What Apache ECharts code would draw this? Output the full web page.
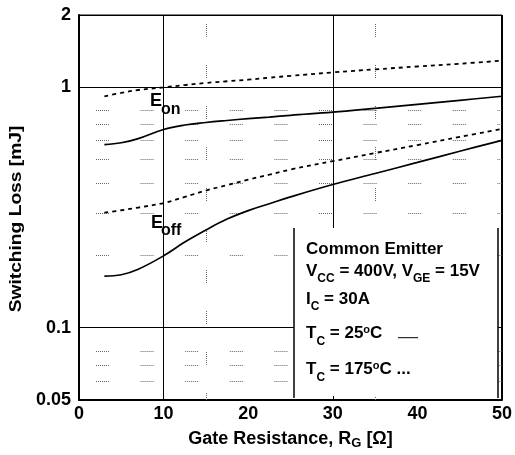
<!DOCTYPE html>
<html>
<head>
<meta charset="utf-8">
<script src="https://cdn.jsdelivr.net/npm/echarts@6/dist/echarts.min.js"></script>
<style>
html,body{margin:0;padding:0;background:#fff;}
#chart{width:515px;height:455px;}
</style>
</head>
<body>
<div id="chart"></div>
<script>
// Gate resistance values (Ohm)
var rg = [3, 5, 7, 10, 12.5, 15, 17.5, 20, 22.5, 25, 30, 35, 40, 45, 50];
// Switching losses (mJ)
var eon25   = [0.578, 0.588, 0.612, 0.668, 0.697, 0.714, 0.728, 0.741, 0.752, 0.765, 0.788, 0.818, 0.850, 0.883, 0.918];
var eon175  = [0.918, 0.948, 0.975, 1.000, 1.022, 1.043, 1.060, 1.076, 1.097, 1.116, 1.154, 1.188, 1.221, 1.254, 1.291];
var eoff25  = [0.164, 0.166, 0.175, 0.199, 0.227, 0.255, 0.283, 0.307, 0.328, 0.350, 0.394, 0.438, 0.487, 0.542, 0.602];
var eoff175 = [0.301, 0.308, 0.316, 0.330, 0.350, 0.372, 0.392, 0.413, 0.433, 0.455, 0.493, 0.533, 0.575, 0.622, 0.672];
// axis settings
var xTicks = [0, 10, 20, 30, 40, 50];
var yMin = 0.05, yMax = 2;
var majorX = [10, 30];
var minorX = [15, 35];
var minorY = [0.06, 0.07, 0.08, 0.2, 0.3, 0.4, 0.5, 0.6, 0.7, 0.8];

var FONT = 'Liberation Sans, Arial, Helvetica, sans-serif';

function pairs(xs, ys) { return xs.map(function (x, i) { return [x, ys[i]]; }); }

// dotted dash: 13px of 1px dots, then a gap
function dotted(len, gap) {
  var a = [];
  for (var i = 0; i < len; i++) a.push(1);
  a.push(gap);
  return a;
}

var chart = echarts.init(document.getElementById('chart'), null, {renderer: 'canvas'});

var markData = [];
majorX.forEach(function (v) {
  markData.push({xAxis: v, lineStyle: {color: '#000', width: 1, type: 'solid'}});
});
markData.push({xAxis: 50, lineStyle: {color: '#000', width: 2, type: 'solid'}});
minorX.forEach(function (v) {
  markData.push({xAxis: v, lineStyle: {color: '#666', width: 1, type: dotted(13, 28), dashOffset: 6}});
});
minorY.forEach(function (v) {
  markData.push({yAxis: v, lineStyle: {color: '#666', width: 1, type: dotted(13, 31.6), dashOffset: 27.6}});
});

function curve(name, data, dashed) {
  return {
    name: name, type: 'line', data: pairs(rg, data), smooth: 0.4,
    symbol: 'none', silent: true, z: 5,
    lineStyle: {color: '#000', width: dashed ? 1.8 : 1.7, type: dashed ? [4, 4] : 'solid'}
  };
}

var main = {fontSize: 17, fontWeight: 'bold', fontFamily: FONT, lineHeight: 17, verticalAlign: 'top', color: '#000'};
var sub = {fontSize: 12, fontWeight: 'bold', fontFamily: FONT, lineHeight: 12, verticalAlign: 'top', padding: [10.5, 0, 0, 0], color: '#000'};
var sup = {fontSize: 11, fontWeight: 'bold', fontFamily: FONT, lineHeight: 8, verticalAlign: 'top', color: '#000'};
var richBox = {m: main, s: sub, o: sup};

function boxText(y, text) {
  return {type: 'text', x: 306, y: y, z: 102,
    style: {text: text, rich: richBox, verticalAlign: 'top', align: 'left', fill: '#000'}};
}

var option = {
  backgroundColor: '#fff',
  animation: false,
  grid: {left: 79, top: 15, width: 423, height: 386, show: true, borderColor: '#000', borderWidth: 1, backgroundColor: 'transparent'},
  xAxis: {
    type: 'value', min: 0, max: 50, interval: 10,
    axisLine: {show: true, lineStyle: {color: '#000', width: 2}},
    axisTick: {show: false},
    splitLine: {show: false},
    axisLabel: {color: '#000', fontSize: 18, fontWeight: 'bold', fontFamily: FONT, margin: 5,
      formatter: function (v) { return xTicks.indexOf(v) >= 0 ? String(v) : ''; }},
    name: '{a|Gate Resistance, R}{b|G}{a| [Ω]}',
    nameLocation: 'middle', nameGap: 30,
    nameTextStyle: {rich: {
      a: {fontSize: 18, fontWeight: 'bold', fontFamily: FONT, color: '#000', lineHeight: 18, verticalAlign: 'top'},
      b: {fontSize: 13, fontWeight: 'bold', fontFamily: FONT, color: '#000', lineHeight: 13, verticalAlign: 'top', padding: [7, 0, 0, 0]}
    }}
  },
  yAxis: {
    type: 'log', logBase: 10, min: yMin, max: yMax,
    axisLine: {show: true, lineStyle: {color: '#000', width: 2}},
    axisTick: {show: false},
    splitLine: {show: true, lineStyle: {color: '#000', width: 1}},
    minorSplitLine: {show: false},
    axisLabel: {color: '#000', fontSize: 18, fontWeight: 'bold', fontFamily: FONT, margin: 8,
      showMinLabel: true, showMaxLabel: true,
      formatter: function (v) { return String(+Number(v).toPrecision(3)); }}
  },
  series: [
    {
      name: 'grid', type: 'line', data: [], silent: true, z: 1,
      markLine: {silent: true, symbol: ['none', 'none'], label: {show: false}, animation: false, data: markData}
    },
    curve('Eon 25', eon25, false),
    curve('Eon 175', eon175, true),
    curve('Eoff 25', eoff25, false),
    curve('Eoff 175', eoff175, true)
  ],
  graphic: [
    {type: 'text', x: 16.5, y: 219, rotation: Math.PI / 2, scaleX: 1.2, z: 50,
      style: {text: 'Switching Loss [mJ]', fontSize: 16, fontWeight: 'bold', fontFamily: FONT, fill: '#000', align: 'center', verticalAlign: 'middle'}},
    {type: 'text', x: 150, y: 101.5, z: 50, style: {text: 'E', fontSize: 18, fontWeight: 'bold', fontFamily: FONT, fill: '#000', verticalAlign: 'middle', align: 'left'}},
    {type: 'text', x: 161, y: 109.5, z: 50, style: {text: 'on', fontSize: 16, fontWeight: 'bold', fontFamily: FONT, fill: '#000', verticalAlign: 'middle', align: 'left'}},
    {type: 'text', x: 151, y: 223.5, z: 50, style: {text: 'E', fontSize: 18, fontWeight: 'bold', fontFamily: FONT, fill: '#000', verticalAlign: 'middle', align: 'left'}},
    {type: 'text', x: 161, y: 230.5, z: 50, style: {text: 'off', fontSize: 16, fontWeight: 'bold', fontFamily: FONT, fill: '#000', verticalAlign: 'middle', align: 'left'}},
    {type: 'rect', z: 100, shape: {x: 294, y: 228, width: 204, height: 168}, style: {fill: '#fff', stroke: null}},
    {type: 'line', z: 101, shape: {x1: 294, y1: 228, x2: 294, y2: 398}, style: {stroke: '#000', lineWidth: 1.5}},
    {type: 'line', z: 101, shape: {x1: 498, y1: 228, x2: 498, y2: 398}, style: {stroke: '#000', lineWidth: 1.5}},
    boxText(240.9, '{m|Common Emitter}'),
    boxText(262.5, '{m|V}{s|CC}{m| = 400V, V}{s|GE}{m| = 15V}'),
    boxText(290.5, '{m|I}{s|C}{m| = 30A}'),
    boxText(324.7, '{m|T}{s|C}{m| = 25}{o|o}{m|C}'),
    boxText(360.9, '{m|T}{s|C}{m| = 175}{o|o}{m|C ...}'),
    {type: 'line', z: 101, shape: {x1: 398, y1: 337.7, x2: 418, y2: 337.7}, style: {stroke: '#000', lineWidth: 1}}
  ]
};
chart.setOption(option);
</script>
</body>
</html>
